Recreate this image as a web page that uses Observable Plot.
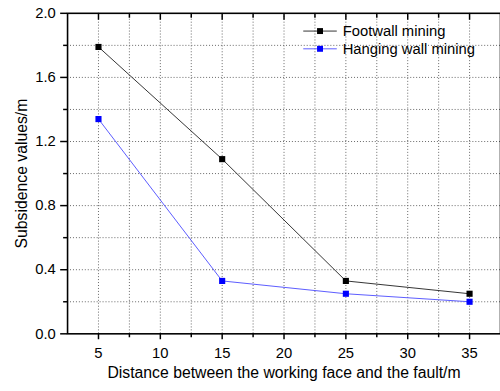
<!DOCTYPE html>
<html>
<head>
<meta charset="utf-8">
<script src="https://cdn.jsdelivr.net/npm/d3@7"></script>
<script src="https://cdn.jsdelivr.net/npm/@observablehq/plot@0.6"></script>
<style>
  html, body { margin: 0; padding: 0; background: #fff; overflow: hidden; }
  #chart { width: 500px; height: 391px; overflow: hidden; }
  svg { font-family: "Liberation Sans", Arial, sans-serif; }
</style>
</head>
<body>
<div id="chart"></div>
<script>
// ---- data ----
const distance = [5, 15, 25, 35];
const footwall = [1.79, 1.09, 0.33, 0.25];
const hanging = [1.34, 0.33, 0.25, 0.20];
const seriesNames = ["Footwall mining", "Hanging wall mining"];
const seriesLine = ["#333333", "#5a5aff"];
const seriesMarker = ["#000000", "#0000ff"];
const xTicks = [5, 10, 15, 20, 25, 30, 35];
const xMinor = [7.5, 12.5, 17.5, 22.5, 27.5, 32.5];
const xGrid = [5, 7.5, 10, 12.5, 15, 17.5, 20, 22.5, 25, 27.5, 30, 32.5, 35];
const yTicks = [0, 0.4, 0.8, 1.2, 1.6, 2.0];
const yMinor = [0.2, 0.6, 1.0, 1.4, 1.8];
const yGrid = [0.2, 0.4, 0.6, 0.8, 1.0, 1.2, 1.4, 1.6, 1.8];
const xLabel = "Distance between the working face and the fault/m";
const yLabel = "Subsidence values/m";

const rows = [];
distance.forEach((d, i) => {
  rows.push({x: d, y: footwall[i], s: seriesNames[0]});
  rows.push({x: d, y: hanging[i], s: seriesNames[1]});
});
const fw = rows.filter(r => r.s === seriesNames[0]);
const hw = rows.filter(r => r.s === seriesNames[1]);
const font = 15;

// legend line glyph (custom symbol)
const legendLine = {draw(context) { context.moveTo(-17, 0); context.lineTo(17, 0); }};
const legendMarks = [];
seriesNames.forEach((name, i) => {
  const dy = 18 + i * 18;
  legendMarks.push(
    Plot.dot([name], {frameAnchor: "top-left", dx: 256, dy, symbol: legendLine, r: 5, stroke: seriesLine[i], strokeWidth: 1, fill: "none"}),
    Plot.dot([name], {frameAnchor: "top-left", dx: 256, dy, symbol: "square", r: 3.4, fill: seriesMarker[i]}),
    Plot.text([name], {text: d => d, frameAnchor: "top-left", dx: 279, dy, textAnchor: "start", lineAnchor: "middle", fontSize: font, fill: "#000"})
  );
});

const chart = Plot.plot({
  width: 507,
  height: 391,
  marginLeft: 68,
  marginRight: 0,
  marginTop: 13,
  marginBottom: 53,
  x: {domain: [2.5, 37.5], axis: null},
  y: {domain: [0, 2.0], axis: null},
  marks: [
    Plot.ruleX(xGrid, {stroke: "#666", strokeDasharray: "1,2", strokeWidth: 1}),
    Plot.ruleY(yGrid, {stroke: "#666", strokeDasharray: "1,2", strokeWidth: 1}),
    Plot.axisY(yTicks, {anchor: "left", tickSize: 7, tickPadding: 5, tickFormat: d => d.toFixed(1), fontSize: font, strokeWidth: 1.5, label: null}),
    Plot.axisY(yMinor, {anchor: "left", tickSize: 4, tickFormat: () => "", strokeWidth: 1.5, label: null}),
    Plot.axisX(xTicks, {anchor: "bottom", tickSize: 6, tickPadding: 8, fontSize: font, strokeWidth: 1.5, label: null}),
    Plot.axisX(xMinor, {anchor: "bottom", tickSize: 4, tickFormat: () => "", strokeWidth: 1.5, label: null}),
    Plot.axisX(xTicks, {anchor: "top", tickSize: -6, tickFormat: () => "", strokeWidth: 1.5, label: null}),
    Plot.axisX(xMinor, {anchor: "top", tickSize: -4, tickFormat: () => "", strokeWidth: 1.5, label: null}),
    Plot.frame({stroke: "#000", strokeWidth: 1.6}),
    Plot.line(fw, {x: "x", y: "y", stroke: seriesLine[0], strokeWidth: 1}),
    Plot.line(hw, {x: "x", y: "y", stroke: seriesLine[1], strokeWidth: 1}),
    Plot.dot(fw, {x: "x", y: "y", symbol: "square", r: 3.5, fill: seriesMarker[0]}),
    Plot.dot(hw, {x: "x", y: "y", symbol: "square", r: 3.5, fill: seriesMarker[1]}),
    Plot.text([xLabel], {text: d => d, frameAnchor: "bottom", lineAnchor: "middle", dy: 40, fontSize: 16, fill: "#000"}),
    Plot.text([yLabel], {text: d => d, frameAnchor: "left", textAnchor: "middle", lineAnchor: "middle", dx: -46, rotate: -90, fontSize: 16, fill: "#000"}),
    ...legendMarks
  ]
});
document.getElementById("chart").appendChild(chart);
</script>
</body>
</html>
